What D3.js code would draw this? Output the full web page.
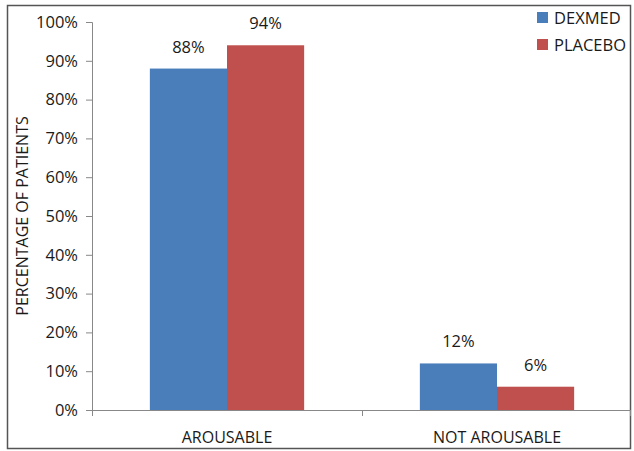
<!DOCTYPE html>
<html>
<head>
<meta charset="utf-8">
<script src="https://cdn.jsdelivr.net/npm/d3@7"></script>
<style>
  body { margin: 0; background: #fff; }
  text { font-family: "Open Sans", "Liberation Sans", sans-serif; fill: #1a1a1a; }
</style>
</head>
<body>
<svg width="634" height="451"></svg>
<script>
const categories = ['AROUSABLE', 'NOT AROUSABLE'];
const seriesNames = ['DEXMED', 'PLACEBO'];
const dexmed = [88, 12];
const placebo = [94, 6];
const yTicks = [0, 10, 20, 30, 40, 50, 60, 70, 80, 90, 100];
const colors = { DEXMED: '#4a7ebb', PLACEBO: '#c0504d' };

const svg = d3.select('svg');
const plotLeft = 92, plotRight = 632, plotTop = 22, plotBottom = 410;

// outer frame
svg.append('rect')
    .attr('x', 7.5).attr('y', 5.5)
    .attr('width', 623).attr('height', 443)
    .attr('fill', 'none').attr('stroke', '#555').attr('stroke-width', 1.5);

const x = d3.scaleBand().domain(categories).range([plotLeft, plotRight]);
const xs = d3.scaleBand().domain(seriesNames).range([0, x.bandwidth()]).paddingInner(0).paddingOuter(0.75);
const y = d3.scaleLinear().domain([0, 100]).range([plotBottom, plotTop]);

// y axis
const yAxis = svg.append('g')
    .attr('transform', `translate(${plotLeft},0)`)
    .call(d3.axisLeft(y).tickValues(yTicks).tickFormat(d => d + '%').tickSize(6).tickPadding(8));
yAxis.selectAll('path, line').attr('stroke', '#888');
yAxis.selectAll('text').style('font-size', '16.5px').attr('fill', '#1a1a1a');

// x axis with boundary ticks
svg.append('line')
    .attr('x1', plotLeft).attr('x2', plotRight - 2)
    .attr('y1', plotBottom + 0.5).attr('y2', plotBottom + 0.5)
    .attr('stroke', '#888');
const bounds = [plotLeft, x(categories[1]), plotRight - 2];
svg.selectAll('.xtick').data(bounds).enter().append('line')
    .attr('x1', d => d + 0.5).attr('x2', d => d + 0.5)
    .attr('y1', plotBottom).attr('y2', plotBottom + 6)
    .attr('stroke', '#888');
svg.selectAll('.xlabel').data(categories).enter().append('text')
    .attr('x', d => x(d) + x.bandwidth() / 2)
    .attr('y', 443)
    .attr('text-anchor', 'middle')
    .style('font-size', '16px')
    .text(d => d);

// bars
const rows = categories.map((c, i) => ({ cat: c, values: [
    { name: 'DEXMED', v: dexmed[i] },
    { name: 'PLACEBO', v: placebo[i] }
]}));
const groups = svg.selectAll('.grp').data(rows).enter().append('g')
    .attr('transform', d => `translate(${x(d.cat)},0)`);
groups.selectAll('rect').data(d => d.values).enter().append('rect')
    .attr('x', d => xs(d.name))
    .attr('y', d => y(d.v))
    .attr('width', xs.bandwidth())
    .attr('height', d => plotBottom - y(d.v))
    .attr('fill', d => colors[d.name]);
groups.selectAll('text').data(d => d.values).enter().append('text')
    .attr('x', d => xs(d.name) + xs.bandwidth() / 2)
    .attr('y', d => y(d.v) - 16)
    .attr('text-anchor', 'middle')
    .style('font-size', '16.5px')
    .text(d => d.v + '%');

// y title
svg.append('text')
    .attr('transform', 'translate(28,216) rotate(-90)')
    .attr('text-anchor', 'middle')
    .style('font-size', '16px')
    .text('PERCENTAGE  OF PATIENTS');

// legend
const legend = svg.selectAll('.leg').data(seriesNames).enter().append('g')
    .attr('transform', (d, i) => `translate(537,${12 + i * 27})`);
legend.append('rect').attr('width', 11).attr('height', 11).attr('fill', d => colors[d]);
legend.append('text').attr('x', 17).attr('y', 11.5).style('font-size', '16.5px').text(d => d);
</script>
</body>
</html>
